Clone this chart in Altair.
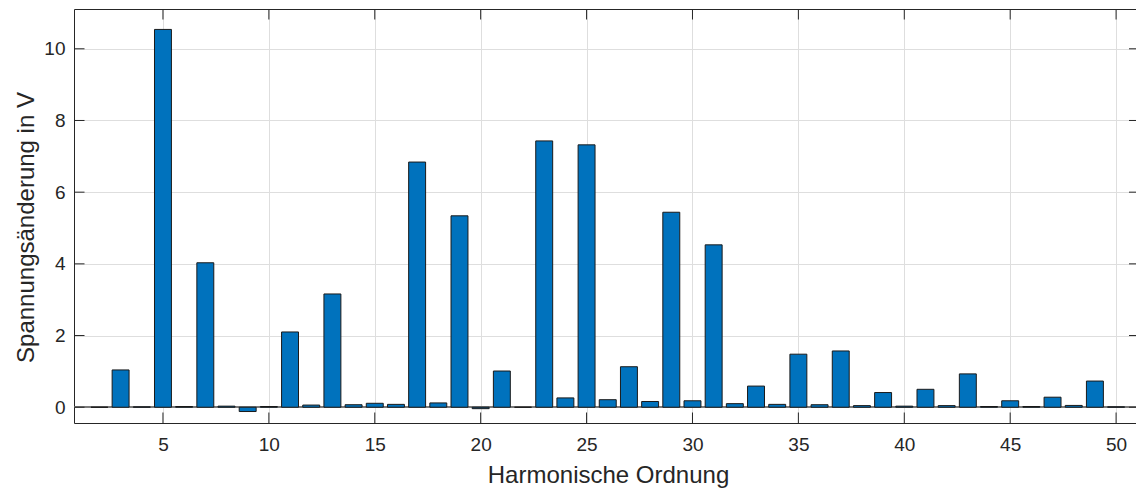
import altair as alt
import pandas as pd

# Harmonic orders and voltage change (V)
harmonics = list(range(2, 51))
values = [0.0, 1.04, 0.01, 10.54, 0.02, 4.03, 0.03, -0.12, 0.02, 2.10,
          0.06, 3.16, 0.07, 0.11, 0.08, 6.84, 0.12, 5.34, -0.04, 1.01,
          0.0, 7.43, 0.26, 7.32, 0.21, 1.13, 0.16, 5.44, 0.18, 4.53,
          0.10, 0.59, 0.08, 1.48, 0.07, 1.57, 0.045, 0.41, 0.03, 0.50,
          0.045, 0.93, 0.02, 0.18, 0.02, 0.28, 0.05, 0.73, 0.01]
x_ticks = [5, 10, 15, 20, 25, 30, 35, 40, 45, 50]
y_ticks = [0, 2, 4, 6, 8, 10]
x_title = "Harmonische Ordnung"
y_title = "Spannungsänderung in V"

df = pd.DataFrame({"h": harmonics, "v": values})
dfx = pd.DataFrame({"t": x_ticks})
dfy = pd.DataFrame({"t": y_ticks})

FONT = "Liberation Sans"
TXT = "#262626"
W, H = 1062, 414
xdom = [0.8, 50.94]
ydom = [-0.44, 11.11]
xs = alt.Scale(domain=xdom, nice=False, zero=False)
ys = alt.Scale(domain=ydom, nice=False, zero=False)
TICK = 10.5

base = alt.Chart(df)

# grid + left/bottom frame
grid = base.mark_point(opacity=0).encode(
    x=alt.X("h:Q", scale=xs, axis=alt.Axis(orient="bottom", values=x_ticks, grid=True,
                                           gridColor="#dedede", gridWidth=1, domain=True,
                                           domainColor=TXT, ticks=False, labels=False, title=None)),
    y=alt.Y("v:Q", scale=ys, axis=alt.Axis(orient="left", values=y_ticks, grid=True,
                                           gridColor="#dedede", gridWidth=1, domain=True,
                                           domainColor=TXT, ticks=False, labels=False, title=None)),
)

baseline = base.mark_rule(color="#7a7a7a", strokeWidth=1).encode(
    y=alt.Y(datum=0, scale=ys, axis=None)
)

bars = base.transform_calculate(
    x0="datum.h - 0.4", x1="datum.h + 0.4"
).mark_bar(color="#0072BD", stroke="#1a1a1a", strokeWidth=1).encode(
    x=alt.X("x0:Q", scale=xs, axis=alt.Axis(
        orient="bottom", values=x_ticks, ticks=False, domain=False, grid=False,
        labelFont=FONT, labelFontSize=19, labelColor=TXT, labelPadding=12,
        title=x_title, titleFont=FONT, titleFontSize=24, titleFontWeight="normal",
        titleColor=TXT, titleX=534, titleY=59, titleBaseline="alphabetic")),
    x2="x1:Q",
    y=alt.Y("v:Q", scale=ys, axis=alt.Axis(
        orient="left", values=y_ticks, ticks=False, domain=False, grid=False,
        labelFont=FONT, labelFontSize=19, labelColor=TXT, labelPadding=9,
        title=y_title, titleFont=FONT, titleFontSize=24, titleFontWeight="normal",
        titleColor=TXT, titleX=-41, titleY=218, titleBaseline="alphabetic",
        titleAngle=270)),
    y2=alt.Y2(datum=0),
)

# inward tick marks (MATLAB style) on all four sides
tick_style = dict(color=TXT, strokeWidth=1)
ticks_top = alt.Chart(dfx).mark_rule(**tick_style).encode(
    x=alt.X("t:Q", scale=xs, axis=None), y=alt.value(0), y2=alt.value(TICK))
ticks_bottom = alt.Chart(dfx).mark_rule(**tick_style).encode(
    x=alt.X("t:Q", scale=xs, axis=None), y=alt.value(H - TICK), y2=alt.value(H))
ticks_left = alt.Chart(dfy).mark_rule(**tick_style).encode(
    y=alt.Y("t:Q", scale=ys, axis=None), x=alt.value(0), x2=alt.value(TICK))
ticks_right = alt.Chart(dfy).mark_rule(**tick_style).encode(
    y=alt.Y("t:Q", scale=ys, axis=None), x=alt.value(W - 7), x2=alt.value(W))

# top frame line
topframe = base.mark_point(opacity=0).encode(
    x=alt.X("h:Q", scale=xs, axis=alt.Axis(orient="top", domain=True, domainColor=TXT,
                                           ticks=False, labels=False, grid=False, title=None)),
    y=alt.Y("v:Q", scale=ys, axis=None),
)

chart = alt.layer(grid, baseline, bars, ticks_top, ticks_bottom, ticks_left, ticks_right,
                  topframe).resolve_axis(
    x="independent", y="independent"
).properties(
    width=W, height=H,
    autosize=alt.AutoSizeParams(type="none"),
    padding={"left": 74, "top": 9, "right": 0, "bottom": 68},
    background="white",
).configure_view(stroke=None)

chart.save("out.html", embed_options={"renderer": "svg", "actions": False})
